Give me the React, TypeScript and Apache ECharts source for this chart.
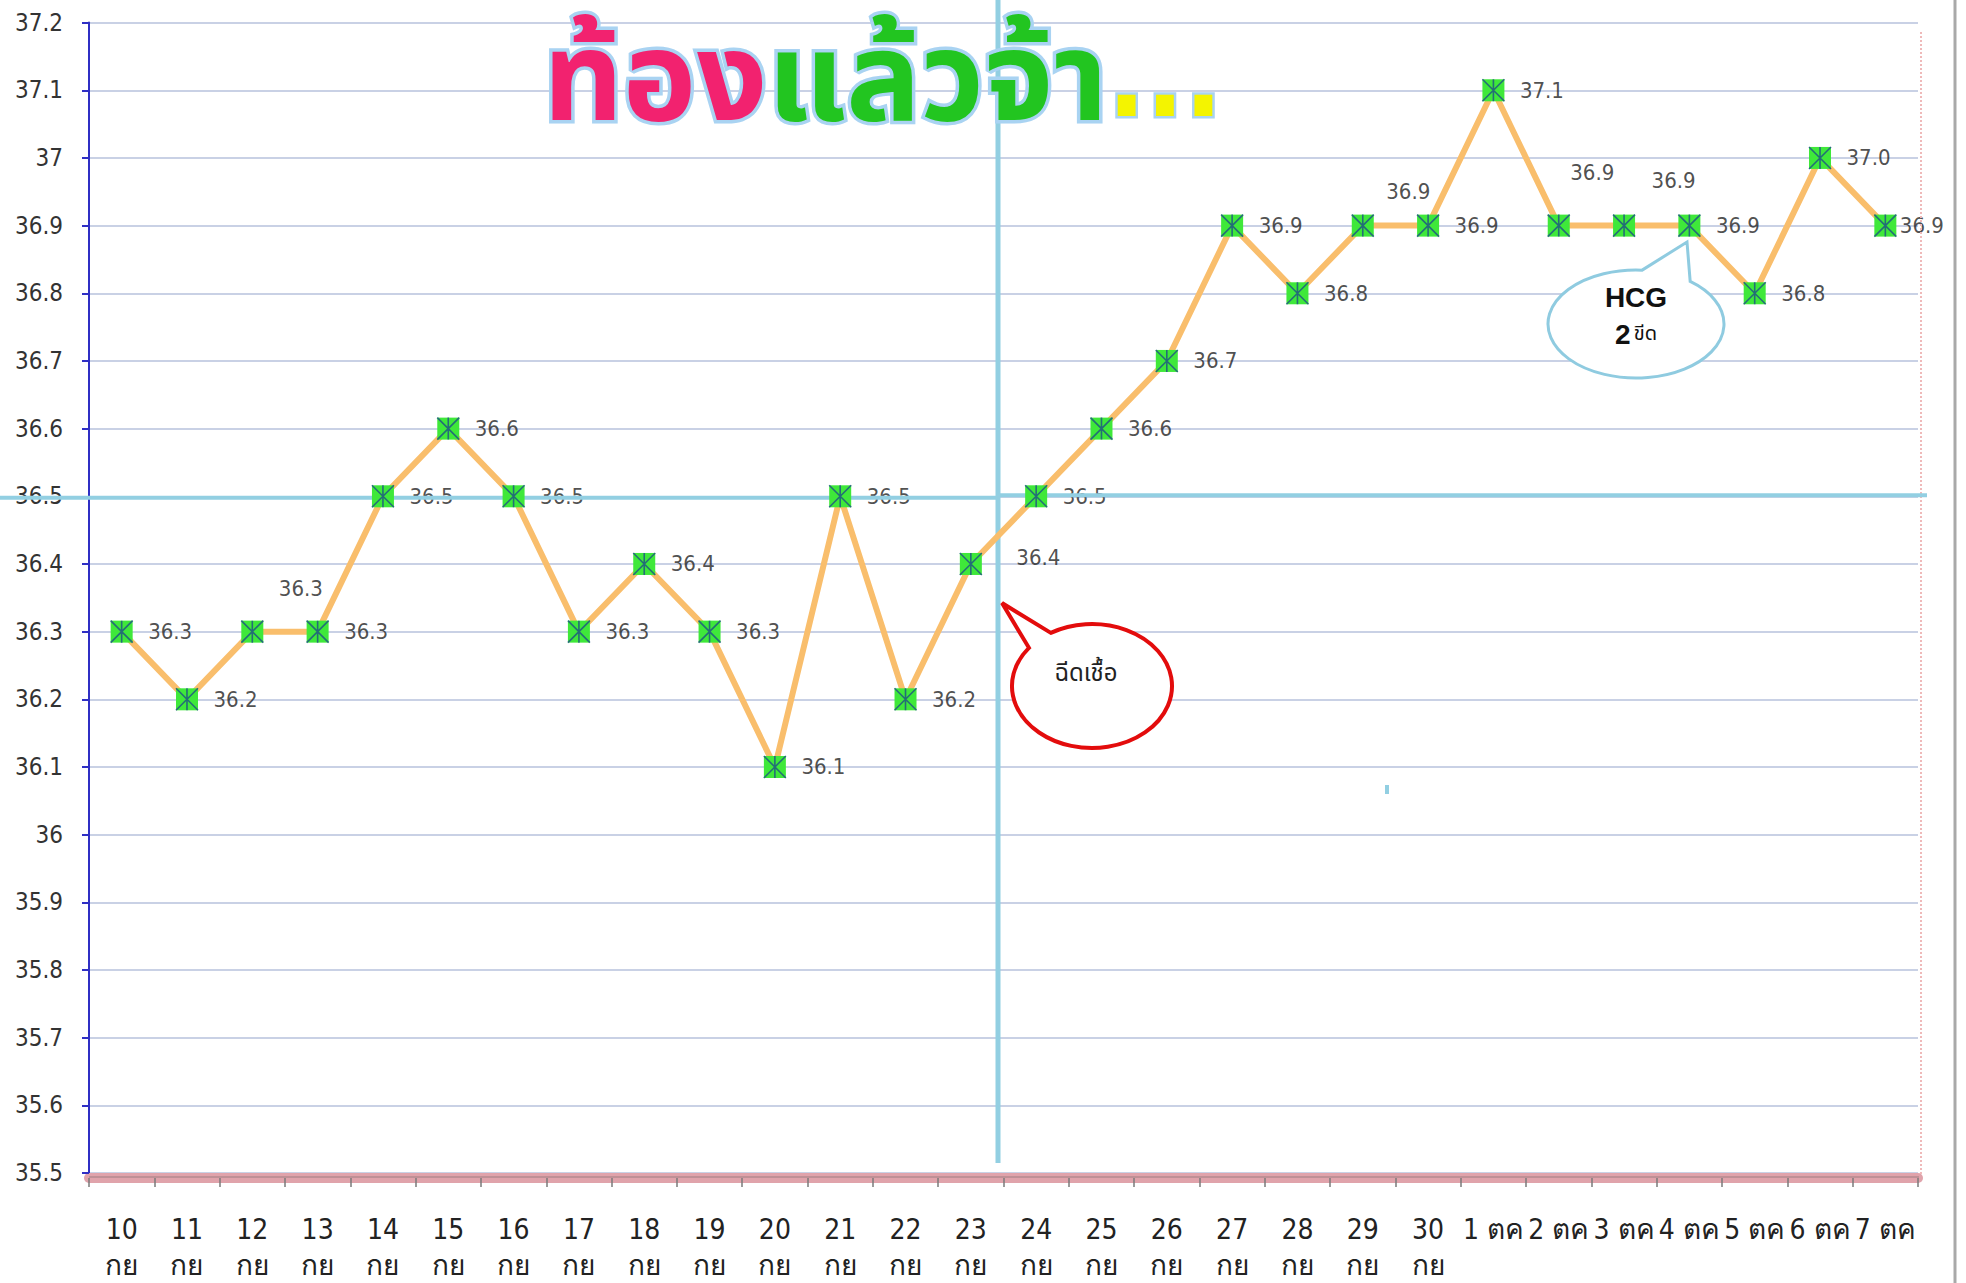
import React, { useEffect, useRef } from "react";
import * as echarts from "echarts";

const categories = [
  "10\nกย", "11\nกย", "12\nกย", "13\nกย", "14\nกย", "15\nกย", "16\nกย",
  "17\nกย", "18\nกย", "19\nกย", "20\nกย", "21\nกย", "22\nกย", "23\nกย",
  "24\nกย", "25\nกย", "26\nกย", "27\nกย", "28\nกย", "29\nกย", "30\nกย",
  "1 ตค", "2 ตค", "3 ตค", "4 ตค", "5 ตค", "6 ตค", "7 ตค",
];

const temperatures = [
  36.3, 36.2, 36.3, 36.3, 36.5, 36.6, 36.5,
  36.3, 36.4, 36.3, 36.1, 36.5, 36.2, 36.4,
  36.5, 36.6, 36.7, 36.9, 36.8, 36.9, 36.9,
  37.1, 36.9, 36.9, 36.9, 36.8, 37.0, 36.9,
];

const yMin = 35.5;
const yMax = 37.2;
const yStep = 0.1;

const titleParts = ["ท้อง", "แล้วจ้า", "..."];
const noteInjection = "ฉีดเชื้อ";
const noteHcg = ["HCG", "2", "ขีด"];

const NUM_FONT = "'DejaVu Sans Condensed', 'DejaVu Sans', sans-serif";
const THAI_FONT = "'Noto Sans Thai', 'Noto Sans Thai Looped', Tahoma, 'DejaVu Sans Condensed', 'DejaVu Sans', sans-serif";
const TITLE_FONT = "'DejaVu Sans', 'Noto Sans Thai', sans-serif";

function bubblePath(cx: number, cy: number, rx: number, ry: number, a1: number, a2: number, tip: [number, number]) {
  const r = (d: number) => (d * Math.PI) / 180;
  const p1 = [cx + rx * Math.cos(r(a1)), cy + ry * Math.sin(r(a1))];
  const p2 = [cx + rx * Math.cos(r(a2)), cy + ry * Math.sin(r(a2))];
  return `M${p1[0]} ${p1[1]} A${rx} ${ry} 0 1 1 ${p2[0]} ${p2[1]} L${tip[0]} ${tip[1]} Z`;
}

echarts.graphic.registerShape(
  "bubbleRed",
  echarts.graphic.extendPath(bubblePath(1092, 686, 80, 62, -121, -142, [1002, 603]), {})
);
echarts.graphic.registerShape(
  "bubbleBlue",
  echarts.graphic.extendPath(bubblePath(1636, 324, 88, 54, -52, -86, [1687, 242]), {})
);

export default function App() {
  const ref = useRef<HTMLDivElement>(null);

  useEffect(() => {
    if (!ref.current) return;
    const chart = echarts.init(ref.current, null, { renderer: "svg" });

    const labelOffsets: Record<number, [number, number]> = {
      2: [0, -43],
      13: [19, -6],
      19: [-3, -34],
      22: [-15, -53],
      23: [1, -45],
      27: [-12, 0],
    };

    const labelData = temperatures.map((v, i) => ({
      value: v,
      label: labelOffsets[i] ? { offset: labelOffsets[i] } : undefined,
    }));

    chart.setOption({
      animation: false,
      backgroundColor: "#ffffff",
      grid: { left: 89, right: 48, top: 22.6, bottom: 107, containLabel: false },
      xAxis: {
        type: "category",
        data: categories,
        boundaryGap: true,
        offset: 5,
        axisLine: { show: true, lineStyle: { color: "#e0a3ab", width: 10 } },
        axisTick: { show: true, alignWithLabel: false, length: 9, lineStyle: { color: "#7a7a7a", width: 1.5 } },
        axisLabel: {
          interval: 0,
          margin: 33,
          color: "#222",
          fontSize: 28,
          lineHeight: 36,
          fontFamily: NUM_FONT,
        },
        splitLine: { show: false },
      },
      yAxis: {
        type: "value",
        min: yMin,
        max: yMax,
        interval: yStep,
        axisLine: { show: true, lineStyle: { color: "#2f2fc4", width: 2 } },
        axisTick: { show: true, length: 7, lineStyle: { color: "#2f2fc4", width: 2 } },
        axisLabel: { color: "#333", fontSize: 24, margin: 26, fontFamily: NUM_FONT },
        splitLine: { show: true, lineStyle: { color: "#c9d1e5", width: 2 } },
      },
      series: [
        {
          name: "labels",
          type: "scatter",
          data: labelData,
          symbol: "circle",
          symbolSize: 1,
          itemStyle: { color: "rgba(255,255,255,0)" },
          z: 1,
          silent: true,
          label: {
            show: true,
            position: "right",
            distance: 26,
            color: "#222",
            fontSize: 22,
            fontFamily: NUM_FONT,
            formatter: (p: any) => Number(p.value).toFixed(1),
          },
        },
        {
          name: "temp",
          type: "line",
          data: temperatures,
          symbol: "none",
          lineStyle: { color: "#f9be6c", width: 6 },
          z: 3,
          silent: true,
        },
        {
          name: "marker",
          type: "scatter",
          data: temperatures,
          symbol: "rect",
          symbolSize: 22,
          itemStyle: { color: "#3fe83a", opacity: 1 },
          z: 4,
          silent: true,
        },
        {
          name: "asterisk",
          type: "scatter",
          data: temperatures,
          symbol: "path://M0,0L20,20M20,0L0,20M10,0L10,20",
          symbolSize: 22,
          itemStyle: { color: "rgba(0,0,0,0)", borderColor: "#1d4f86", borderWidth: 1.6 },
          z: 5,
          silent: true,
        },
      ],
    });

    const y365 = chart.convertToPixel({ yAxisIndex: 0 }, 36.5) as number;

    chart.setOption({
      graphic: [
        // frame on the right
        { type: "line", z: 2, shape: { x1: 1955, y1: 0, x2: 1955, y2: 1283 }, style: { stroke: "#a9a9a9", lineWidth: 3 } },
        { type: "line", z: 2, shape: { x1: 1921, y1: 32, x2: 1921, y2: 1176 }, style: { stroke: "#efb9b9", lineWidth: 2, lineDash: [2, 2] } },
        // darker top edge of x axis band
        { type: "line", z: 2, shape: { x1: 89, y1: 1177, x2: 1919, y2: 1177 }, style: { stroke: "#b58a8f", lineWidth: 1.5 } },
        // cyan reference lines
        { type: "line", z: 2, shape: { x1: 0, y1: y365 + 1.5, x2: 998, y2: y365 + 1.5 }, style: { stroke: "#92cfe2", lineWidth: 4 } },
        { type: "line", z: 2, shape: { x1: 998, y1: y365 - 1, x2: 1927, y2: y365 - 1 }, style: { stroke: "#92cfe2", lineWidth: 4 } },
        { type: "line", z: 2, shape: { x1: 998, y1: 0, x2: 998, y2: 1163 }, style: { stroke: "#92cfe2", lineWidth: 5 } },
        { type: "rect", z: 2, shape: { x: 1385, y: 785, width: 4, height: 9 }, style: { fill: "#92cfe2" } },
        // title
        {
          type: "text",
          z: 10,
          x: 543,
          y: 139,
          style: {
            text: `{a|${titleParts[0]}}{b|${titleParts[1]}}{c|${titleParts[2]}}`,
            verticalAlign: "bottom",
            rich: {
              a: { fill: "#f2226f", stroke: "#a9d3f2", lineWidth: 7, fontSize: 124, fontWeight: "bold", fontFamily: TITLE_FONT },
              b: { fill: "#22c520", stroke: "#a9d3f2", lineWidth: 7, fontSize: 124, fontWeight: "bold", fontFamily: TITLE_FONT },
              c: { fill: "#f4f400", stroke: "#a9d3f2", lineWidth: 5, fontSize: 112, fontWeight: "bold", fontFamily: NUM_FONT },
            },
          },
        },
        // red callout
        { type: "bubbleRed", z: 10, x: 0, y: 0, style: { fill: "#ffffff", stroke: "#e30c0c", lineWidth: 4 } },
        {
          type: "text", z: 11, x: 1086, y: 674,
          style: { text: noteInjection, fill: "#222", fontSize: 24, fontFamily: THAI_FONT, align: "center", verticalAlign: "middle" },
        },
        // blue callout
        { type: "bubbleBlue", z: 10, x: 0, y: 0, style: { fill: "#ffffff", stroke: "#8fcbe0", lineWidth: 3 } },
        {
          type: "text", z: 11, x: 1636, y: 297,
          style: { text: noteHcg[0], fill: "#111", fontSize: 28, fontWeight: "bold", fontFamily: "'Liberation Sans', Arial, sans-serif", align: "center", verticalAlign: "middle" },
        },
        {
          type: "text", z: 11, x: 1636, y: 334,
          style: {
            text: `{n|${noteHcg[1]}} {t|${noteHcg[2]}}`,
            align: "center",
            verticalAlign: "middle",
            rich: {
              n: { fill: "#111", fontSize: 28, fontWeight: "bold", fontFamily: "'Liberation Sans', Arial, sans-serif" },
              t: { fill: "#111", fontSize: 20, fontFamily: THAI_FONT },
            },
          },
        },
      ],
    });

    return () => chart.dispose();
  }, []);

  return (
    <div
      ref={ref}
      style={{ position: "fixed", left: 0, top: 0, width: 1966, height: 1283, background: "#fff" }}
    />
  );
}
